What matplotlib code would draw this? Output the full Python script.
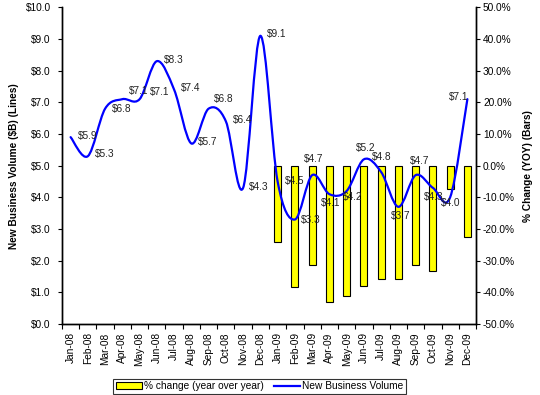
import matplotlib
matplotlib.use('Agg')
import matplotlib.pyplot as plt
from matplotlib.path import Path
from matplotlib.patches import PathPatch, Patch
from matplotlib.lines import Line2D
from matplotlib.ticker import FuncFormatter
import numpy as np

plt.rcParams['font.family'] = ['Liberation Sans', 'DejaVu Sans']

months = ['Jan-08', 'Feb-08', 'Mar-08', 'Apr-08', 'May-08', 'Jun-08',
          'Jul-08', 'Aug-08', 'Sep-08', 'Oct-08', 'Nov-08', 'Dec-08',
          'Jan-09', 'Feb-09', 'Mar-09', 'Apr-09', 'May-09', 'Jun-09',
          'Jul-09', 'Aug-09', 'Sep-09', 'Oct-09', 'Nov-09', 'Dec-09']
volume = [5.9, 5.3, 6.8, 7.1, 7.1, 8.3, 7.4, 5.7, 6.8, 6.4, 4.3, 9.1,
          4.5, 3.3, 4.7, 4.1, 4.2, 5.2, 4.8, 3.7, 4.7, 4.3, 4.0, 7.1]
bar_months = months[12:]
pct_change = [-24.1, -38.3, -31.4, -43.0, -41.3, -38.0,
              -35.7, -35.7, -31.4, -33.2, -7.4, -22.5]

# label offsets in pixels (dx, dy), like the excel layout
label_off = [(17, 1), (17, 2), (17, 0), (16, 8), (20, 7), (17, 1),
             (17, 2), (16, 1), (15, 10), (17, 1), (16, 1), (16, 2),
             (17, 0), (16, 0), (2, 16), (1, -9), (6, -6), (2, 11),
             (1, 15), (2, -9), (4, 14), (1, -9), (1, -6), (-9, 2)]


def smooth_path(xs, ys):
    # excel style smoothed line (catmull-rom as bezier)
    pts = np.column_stack([xs, ys]).astype(float)
    n = len(pts)
    verts = [pts[0]]
    codes = [Path.MOVETO]
    for i in range(n - 1):
        p0 = pts[i - 1] if i > 0 else pts[i]
        p1 = pts[i]
        p2 = pts[i + 1]
        p3 = pts[i + 2] if i + 2 < n else pts[i + 1]
        c1 = p1 + (p2 - p0) / 6.0
        c2 = p2 - (p3 - p1) / 6.0
        verts += [c1, c2, p2]
        codes += [Path.CURVE4] * 3
    return Path(verts, codes)


fig = plt.figure(figsize=(5.4, 3.95), dpi=100)
ax = fig.add_axes([0.1148, 0.1797, 0.7667, 0.8018])
ax2 = ax.twinx()

x = np.arange(len(months))
xb = np.arange(12, 24)

ax2.bar(xb, pct_change, width=0.4, color='#ffff00', edgecolor='black', linewidth=0.8)
ax2.set_ylim(-50, 50)
ax2.set_yticks(np.arange(-50, 51, 10))
ax2.yaxis.set_major_formatter(FuncFormatter(lambda v, p: '%.1f%%' % v))

ax.set_zorder(ax2.get_zorder() + 1)
ax.patch.set_visible(False)

line = PathPatch(smooth_path(x, volume), facecolor='none', edgecolor='#0000ff',
                 linewidth=1.6, capstyle='round', joinstyle='round')
ax.add_patch(line)

for i, v in enumerate(volume):
    dx, dy = label_off[i]
    ax.annotate('$%.1f' % v, (x[i], v), xytext=(dx, dy), textcoords='offset pixels',
                ha='center', va='center', fontsize=7.3, color='#222222')

ax.set_xlim(-0.5, 23.5)
ax.set_ylim(0, 10)
ax.set_yticks(np.arange(0, 10.1, 1))
ax.yaxis.set_major_formatter(FuncFormatter(lambda v, p: '$%.1f' % v))

ax.set_xticks(x)
ax.set_xticklabels(months, rotation=90)
ax.set_xticks(np.arange(-0.5, 24, 1), minor=True)
ax.tick_params(axis='x', which='major', length=0, pad=6, labelsize=7.3)
ax.tick_params(axis='x', which='minor', length=3.5, direction='out', width=0.8)
ax.tick_params(axis='y', length=3, width=0.8, labelsize=7.3, pad=5)
ax2.tick_params(axis='y', length=3, width=0.8, labelsize=7.3, pad=2)

for a in (ax, ax2):
    a.spines['top'].set_visible(False)
    for s in ('left', 'right', 'bottom'):
        a.spines[s].set_linewidth(1.0)

ax.set_ylabel('New Business Volume ($B) (Lines)', fontsize=7.3, fontweight='bold', labelpad=5)
ax2.set_ylabel('% Change (YOY) (Bars)', fontsize=7.3, fontweight='bold',
               rotation=90, labelpad=6)

handles = [Patch(facecolor='#ffff00', edgecolor='black', linewidth=0.8),
           Line2D([0], [0], color='#0000ff', linewidth=1.6)]
leg = fig.legend(handles, ['% change (year over year)', 'New Business Volume'],
                 loc='lower center', bbox_to_anchor=(0.481, 0.003), ncol=2,
                 fontsize=7.3, frameon=True, fancybox=False, borderpad=0.25,
                 handlelength=2.6, handletextpad=0.2, columnspacing=1.0,
                 borderaxespad=0)
leg.get_frame().set_edgecolor('black')
leg.get_frame().set_linewidth(0.8)

fig.savefig('out.png', dpi=100)
